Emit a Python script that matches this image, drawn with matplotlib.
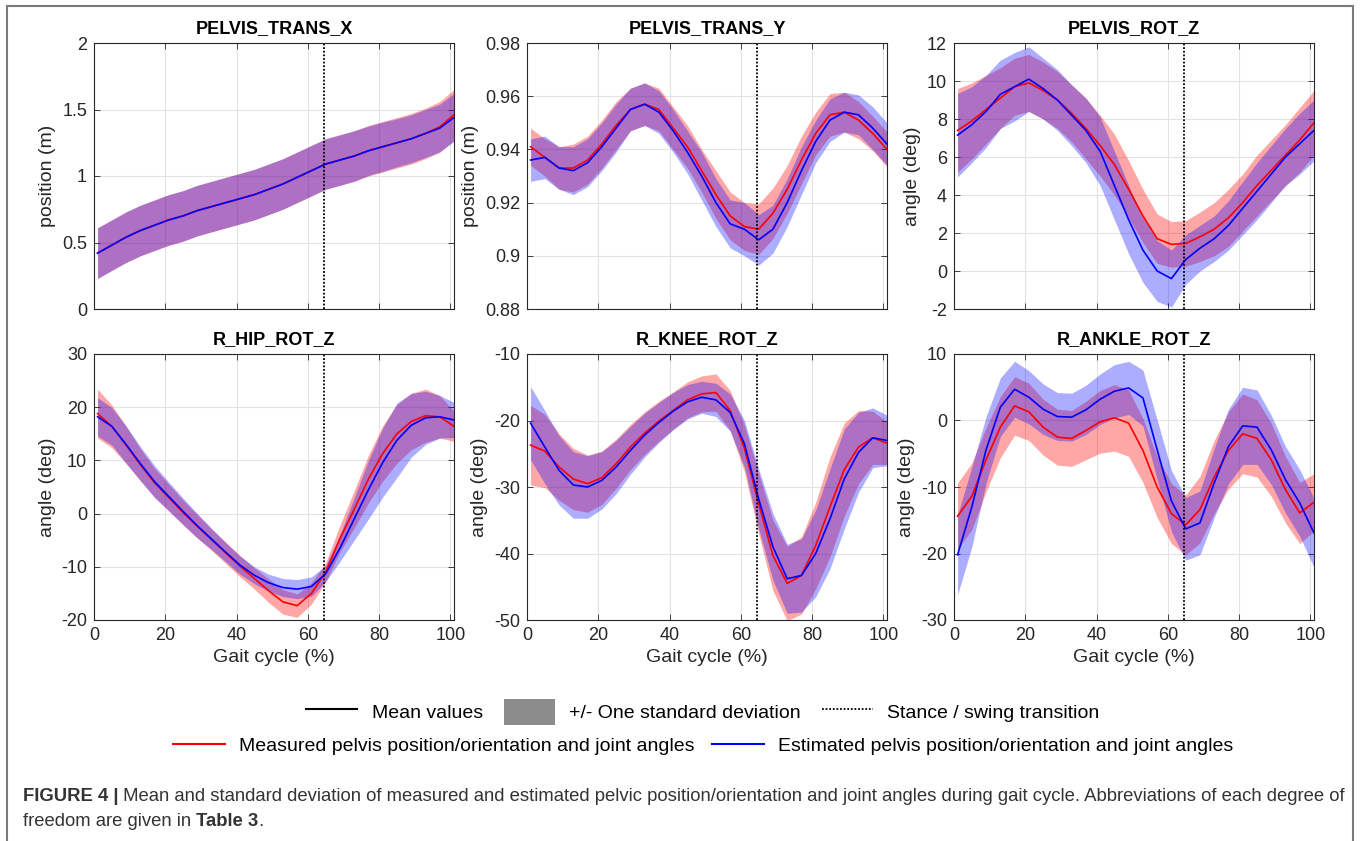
import numpy as np
import matplotlib
matplotlib.use('Agg')
import matplotlib.pyplot as plt
from matplotlib.lines import Line2D
from matplotlib.patches import Patch, Rectangle
from matplotlib.ticker import FuncFormatter

plt.rcParams['font.family'] = ['Liberation Sans', 'DejaVu Sans']
plt.rcParams['axes.unicode_minus'] = False

# gait cycle samples (%)
gait = [1, 5, 9, 13, 17, 21, 25, 29, 33, 37, 41, 45, 49, 53, 57, 61, 65, 69, 73, 77, 81, 85, 89, 93, 97, 101]
transition = 64.5

titles = ['PELVIS_TRANS_X', 'PELVIS_TRANS_Y', 'PELVIS_ROT_Z',
          'R_HIP_ROT_Z', 'R_KNEE_ROT_Z', 'R_ANKLE_ROT_Z']
ylabels = ['position (m)', 'position (m)', 'angle (deg)',
           'angle (deg)', 'angle (deg)', 'angle (deg)']
ylims = [(0, 2), (0.88, 0.98), (-2, 12), (-20, 30), (-50, -10), (-30, 10)]
yticks = [[0, 0.5, 1, 1.5, 2],
          [0.88, 0.9, 0.92, 0.94, 0.96, 0.98],
          [-2, 0, 2, 4, 6, 8, 10, 12],
          [-20, -10, 0, 10, 20, 30],
          [-50, -40, -30, -20, -10],
          [-30, -20, -10, 0, 10]]

# measured (red) means and standard deviations
meas_mean = [
    [0.42, 0.48, 0.54, 0.59, 0.63, 0.67, 0.70, 0.74, 0.77, 0.80, 0.83, 0.86, 0.90,
     0.94, 0.99, 1.04, 1.09, 1.12, 1.15, 1.19, 1.22, 1.25, 1.28, 1.32, 1.37, 1.46],
    [0.941, 0.937, 0.933, 0.933, 0.936, 0.942, 0.949, 0.955, 0.957, 0.955, 0.948, 0.941, 0.932,
     0.923, 0.915, 0.911, 0.910, 0.916, 0.925, 0.936, 0.946, 0.953, 0.954, 0.951, 0.946, 0.940],
    [7.4, 7.9, 8.5, 9.1, 9.7, 9.9, 9.5, 9.0, 8.3, 7.5, 6.6, 5.6, 4.3,
     2.9, 1.7, 1.4, 1.45, 1.8, 2.2, 2.8, 3.6, 4.5, 5.3, 6.1, 6.9, 7.8],
    [18.8, 16.4, 12.9, 9.2, 5.8, 3.0, 0.2, -2.4, -4.9, -7.4, -9.9, -12.2, -14.5,
     -16.6, -17.3, -15.0, -11.0, -4.7, 0.8, 6.5, 11.3, 15.0, 17.3, 18.4, 18.2, 16.4],
    [-23.7, -24.6, -27.0, -28.8, -29.5, -28.6, -26.5, -24.0, -21.9, -20.1, -18.5, -16.9, -16.0,
     -15.8, -18.5, -24.2, -32.5, -40.3, -44.5, -43.3, -38.8, -33.0, -27.4, -24.0, -22.6, -23.4],
    [-14.4, -11.4, -5.9, -1.0, 2.2, 1.3, -1.0, -2.5, -2.7, -1.5, -0.2, 0.4, -0.4,
     -4.5, -10.0, -14.0, -15.7, -13.4, -8.5, -4.5, -2.0, -2.7, -5.9, -10.4, -13.9, -12.3],
]
meas_sd = [
    [0.19] * 26,
    [0.007, 0.007, 0.008, 0.009, 0.009, 0.009, 0.009, 0.008, 0.008, 0.008, 0.008, 0.008, 0.008,
     0.009, 0.009, 0.009, 0.0095, 0.0095, 0.009, 0.009, 0.008, 0.008, 0.0075, 0.007, 0.0065, 0.0065],
    [2.2, 2.0, 1.8, 1.6, 1.5, 1.5, 1.5, 1.5, 1.5, 1.6, 1.6, 1.6, 1.5,
     1.4, 1.3, 1.2, 1.2, 1.3, 1.4, 1.5, 1.5, 1.6, 1.6, 1.6, 1.7, 1.7],
    [4.6, 4.0, 3.5, 3.0, 2.7, 2.5, 2.3, 2.2, 2.0, 2.0, 2.0, 2.0, 2.2,
     2.3, 2.2, 2.0, 1.8, 2.5, 3.5, 4.5, 5.2, 5.5, 5.3, 5.0, 4.0, 2.8],
    [6.0, 5.5, 5.0, 4.6, 4.3, 4.0, 3.7, 3.4, 3.2, 3.0, 2.8, 2.7, 2.7,
     2.8, 3.0, 3.5, 4.5, 5.3, 5.6, 5.8, 6.5, 7.5, 7.0, 5.5, 4.0, 3.2],
    [5.0, 5.0, 4.8, 4.6, 4.4, 4.3, 4.2, 4.2, 4.2, 4.4, 4.7, 5.0, 5.0,
     4.8, 4.6, 4.5, 4.5, 5.0, 5.5, 5.8, 6.0, 5.8, 5.5, 5.0, 4.6, 4.3],
]

# estimated (blue) means and standard deviations
est_mean = [
    [0.42, 0.48, 0.54, 0.59, 0.63, 0.67, 0.70, 0.74, 0.77, 0.80, 0.83, 0.86, 0.90,
     0.94, 0.99, 1.04, 1.09, 1.12, 1.15, 1.19, 1.22, 1.25, 1.28, 1.32, 1.36, 1.44],
    [0.936, 0.937, 0.933, 0.932, 0.935, 0.941, 0.948, 0.955, 0.957, 0.954, 0.947, 0.939, 0.930,
     0.920, 0.912, 0.910, 0.906, 0.910, 0.920, 0.932, 0.943, 0.951, 0.954, 0.953, 0.948, 0.942],
    [7.15, 7.7, 8.4, 9.3, 9.7, 10.1, 9.6, 9.0, 8.2, 7.4, 6.3, 4.5, 2.7,
     1.1, 0.0, -0.4, 0.6, 1.2, 1.7, 2.4, 3.3, 4.2, 5.1, 6.0, 6.7, 7.4],
    [18.2, 16.4, 13.0, 9.4, 6.0, 3.2, 0.4, -2.3, -4.8, -7.3, -9.7, -11.6, -13.0,
     -13.9, -14.2, -13.7, -11.3, -6.5, -1.0, 4.5, 9.6, 13.8, 16.6, 18.0, 18.2, 17.6],
    [-20.4, -24.0, -27.5, -29.7, -30.0, -29.0, -27.0, -24.5, -22.2, -20.3, -18.6, -17.2, -16.5,
     -16.9, -18.8, -23.5, -31.8, -39.0, -43.8, -43.3, -40.0, -34.8, -28.8, -24.8, -22.6, -23.0],
    [-20.2, -13.0, -4.4, 2.0, 4.7, 3.5, 1.7, 0.6, 0.5, 1.6, 3.2, 4.4, 4.9,
     3.4, -4.4, -12.1, -16.3, -15.4, -9.4, -3.9, -0.8, -1.0, -4.4, -8.9, -12.4, -16.9],
]
est_sd = [
    [0.19, 0.19, 0.19, 0.19, 0.19, 0.19, 0.19, 0.19, 0.19, 0.19, 0.19, 0.19, 0.19,
     0.19, 0.19, 0.19, 0.19, 0.19, 0.19, 0.185, 0.185, 0.18, 0.18, 0.18, 0.18, 0.18],
    [0.008, 0.008, 0.008, 0.009, 0.009, 0.009, 0.009, 0.008, 0.008, 0.008, 0.008, 0.008, 0.009,
     0.009, 0.009, 0.010, 0.0095, 0.009, 0.009, 0.009, 0.008, 0.008, 0.0075, 0.0075, 0.008, 0.008],
    [2.2, 2.0, 1.9, 1.8, 1.8, 1.7, 1.6, 1.6, 1.6, 1.7, 1.8, 1.8, 1.8,
     1.7, 1.6, 1.5, 1.3, 1.2, 1.2, 1.3, 1.4, 1.5, 1.5, 1.5, 1.6, 1.6],
    [3.6, 3.5, 3.5, 3.2, 3.0, 2.7, 2.5, 2.3, 2.0, 1.8, 1.7, 1.6, 1.6,
     1.7, 1.8, 1.8, 1.5, 2.5, 4.0, 5.5, 6.5, 7.0, 6.0, 5.0, 4.0, 3.3],
    [5.5, 5.5, 5.2, 5.0, 4.7, 4.3, 4.0, 3.6, 3.3, 3.0, 2.8, 2.6, 2.4,
     2.5, 2.8, 3.5, 4.5, 5.0, 5.2, 5.5, 6.5, 7.5, 7.5, 6.0, 4.5, 3.8],
    [6.0, 6.0, 5.0, 4.4, 4.2, 4.0, 3.8, 3.6, 3.6, 3.7, 3.8, 4.0, 4.0,
     4.2, 4.5, 4.6, 4.7, 4.8, 5.2, 5.6, 5.8, 5.6, 5.2, 5.0, 5.0, 5.2],
]

RED = '#ff0000'
BLUE = '#0000ff'
AXCOL = '#262626'

fig = plt.figure(figsize=(13.6, 8.41), dpi=100)

W, H = 1360, 841
lefts = [94, 527, 954]
tops = [43, 354]
aw, ah = 360, 266

x = np.array(gait)
for i in range(6):
    r, c = divmod(i, 3)
    ax = fig.add_axes([lefts[c] / W, 1 - (tops[r] + ah) / H, aw / W, ah / H])
    mm, ms = np.array(meas_mean[i]), np.array(meas_sd[i])
    em, es = np.array(est_mean[i]), np.array(est_sd[i])
    ax.fill_between(x, mm - ms, mm + ms, color=RED, alpha=0.35, lw=0)
    ax.fill_between(x, em - es, em + es, color=BLUE, alpha=0.32, lw=0)
    ax.plot(x, mm, color=RED, lw=1.2, solid_joinstyle='round')
    ax.plot(x, em, color=BLUE, lw=1.2, solid_joinstyle='round')
    ax.axvline(transition, color='black', lw=1.3, ls=(0, (1, 1)))

    ax.set_xlim(0, 101)
    ax.set_ylim(*ylims[i])
    ax.set_xticks([0, 20, 40, 60, 80, 100])
    ax.set_yticks(yticks[i])
    ax.yaxis.set_major_formatter(FuncFormatter(lambda v, p: f'{v:g}'))
    ax.grid(True, color='#e3e3e3', lw=0.8)
    ax.set_axisbelow(True)
    ax.tick_params(direction='in', length=4, width=0.6, top=True, right=True,
                   labelsize=13, colors=AXCOL, pad=5)
    for sp in ax.spines.values():
        sp.set_color(AXCOL)
        sp.set_linewidth(0.8)
    ax.set_title(titles[i], fontsize=13, fontweight='bold', pad=7)
    ax.set_ylabel(ylabels[i], fontsize=14, color=AXCOL, labelpad=4)
    if r == 0:
        ax.tick_params(labelbottom=False)
    else:
        ax.set_xlabel('Gait cycle (%)', fontsize=14, color=AXCOL, labelpad=4)

# legends
h1 = [Line2D([], [], color='black', lw=1.5),
      Patch(facecolor='#8c8c8c', edgecolor='none'),
      Line2D([], [], color='black', lw=1.3, ls=(0, (1, 1)))]
l1 = ['Mean values', '+/- One standard deviation', 'Stance / swing transition']
fig.legend(h1, l1, loc='center', bbox_to_anchor=(703 / W, 1 - 712 / H), ncol=3,
           frameon=False, fontsize=14, handlelength=2.6, handleheight=1.7,
           handletextpad=0.75, columnspacing=1.1)
h2 = [Line2D([], [], color=RED, lw=1.5), Line2D([], [], color=BLUE, lw=1.5)]
l2 = ['Measured pelvis position/orientation and joint angles',
      'Estimated pelvis position/orientation and joint angles']
fig.legend(h2, l2, loc='center', bbox_to_anchor=(703 / W, 1 - 746 / H), ncol=2,
           frameon=False, fontsize=14, handlelength=2.7, handletextpad=0.7,
           columnspacing=0.9)

# caption
cap_col = '#333333'
cap_size = 13.3
t1 = fig.text(23 / W, 1 - 801 / H, 'FIGURE 4 |', fontsize=cap_size, fontweight='bold',
              color=cap_col, va='baseline')
fig.add_artist(plt.Annotation(
    ' Mean and standard deviation of measured and estimated pelvic position/orientation '
    'and joint angles during gait cycle. Abbreviations of each degree of',
    xy=(1, 0), xycoords=t1, xytext=(0, 0), textcoords='offset points',
    fontsize=cap_size, color=cap_col, va='bottom'))
t2 = fig.text(23 / W, 1 - 826 / H, 'freedom are given in ', fontsize=cap_size,
              color=cap_col, va='baseline')
t3 = plt.Annotation('Table 3', xy=(1, 0), xycoords=t2, xytext=(0, 0),
                    textcoords='offset points', fontsize=cap_size, fontweight='bold',
                    color=cap_col, va='bottom')
fig.add_artist(t3)
fig.add_artist(plt.Annotation('.', xy=(1, 0), xycoords=t3, xytext=(0, 0),
                              textcoords='offset points', fontsize=cap_size,
                              color=cap_col, va='bottom'))

# outer frame
fig.add_artist(Rectangle((7 / W, -0.02), (1353 - 7) / W, 1.02 - 6 / H,
                         transform=fig.transFigure, fill=False,
                         edgecolor='#7a7a7a', lw=1.5))

fig.savefig('out.png', dpi=100)
